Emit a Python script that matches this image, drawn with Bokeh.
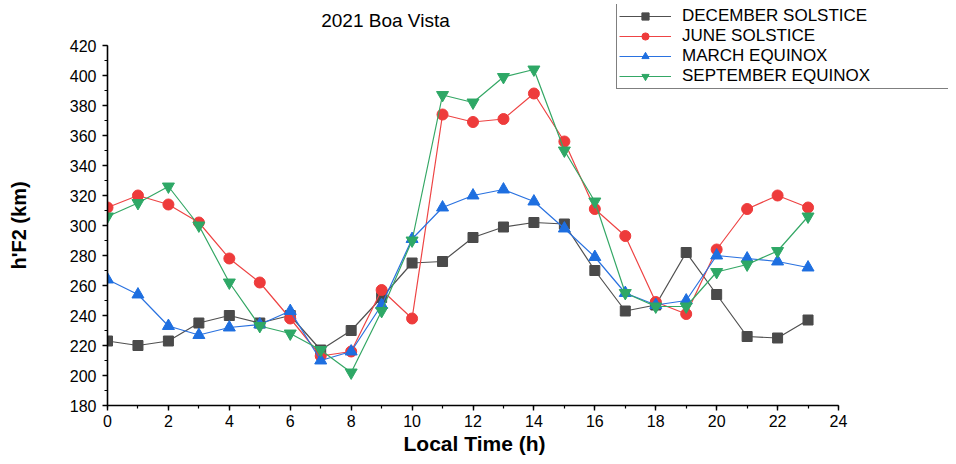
from bokeh.plotting import figure
from bokeh.models import Legend, LegendItem, Range1d, SingleIntervalTicker, Label, Title
from bokeh.embed import file_html
from bokeh.resources import INLINE

# ---- data ----
hours = list(range(24))
december = [223, 220, 223, 235, 240, 235, 240, 217, 230, 252, 275, 276,
            292, 299, 302, 301, 270, 243, 247, 282, 254, 226, 225, 237]
june = [312, 320, 314, 302, 278, 262, 238, 213, 216, 257, 238, 374,
        369, 371, 388, 356, 311, 293, 249, 241, 284, 311, 320, 312]
march = [264, 254, 233, 227, 232, 234, 243, 210, 216, 247, 291, 312,
         320, 324, 316, 298, 279, 255, 247, 250, 280, 278, 276, 272]
september = [306, 315, 326, 300, 262, 233, 228, 217, 202, 243, 290, 387,
             382, 399, 404, 350, 316, 255, 246, 246, 269, 274, 283, 306]
series_names = ["DECEMBER SOLSTICE", "JUNE SOLSTICE", "MARCH EQUINOX", "SEPTEMBER EQUINOX"]
x_bounds = (0, 24)
y_bounds = (180, 420)

FONT = "Liberation Sans"

# frame is extended to the top/right so the legend and title can sit over it;
# the axes themselves are limited to the reference's bounds
px_per_h = 731 / 24.0
px_per_km = 360 / 240.0
x_end = x_bounds[1] + 110 / px_per_h
y_end = y_bounds[1] + 41 / px_per_km

p = figure(width=948, height=456, output_backend="svg", toolbar_location=None,
           x_range=Range1d(x_bounds[0], x_end), y_range=Range1d(y_bounds[0], y_end),
           min_border_left=107, min_border_right=0, min_border_top=4, min_border_bottom=51,
           background_fill_color="white", border_fill_color="white")
p.title.text = ""
p.title.visible = False
p.outline_line_color = None
p.xgrid.visible = False
p.ygrid.visible = False

p.xaxis.ticker = SingleIntervalTicker(interval=2, num_minor_ticks=2)
p.yaxis.ticker = SingleIntervalTicker(interval=20, num_minor_ticks=2)
p.xaxis.bounds = x_bounds
p.yaxis.bounds = y_bounds
for ax in (p.xaxis[0], p.yaxis[0]):
    ax.axis_line_color = "black"
    ax.axis_line_width = 1.6
    ax.major_tick_line_color = "black"
    ax.major_tick_line_width = 1.4
    ax.major_tick_out = 5
    ax.major_tick_in = 0
    ax.minor_tick_line_color = "black"
    ax.minor_tick_line_width = 1.2
    ax.minor_tick_out = 3
    ax.minor_tick_in = 0
    ax.major_label_text_font = FONT
    ax.major_label_text_font_size = "16px"
    ax.major_label_text_color = "black"
p.xaxis.major_label_standoff = 4
p.yaxis.major_label_standoff = 6

# blank axis label used only as a spacer between tick labels and the y title
p.yaxis.axis_label = " "
p.yaxis.axis_label_text_font = FONT
p.yaxis.axis_label_text_font_size = "20px"
p.yaxis.axis_label_text_font_style = "bold"
p.yaxis.axis_label_standoff = 12

# axis titles placed as side-panel titles so they centre on the axis bounds
ylab = Title(text="h'F2 (km)", align="left", offset=136, standoff=0,
             text_font=FONT, text_font_style="bold", text_font_size="20px", text_color="black")
p.add_layout(ylab, "left")
xlab = Title(text="Local Time (h)", align="left", offset=296, standoff=0,
             text_font=FONT, text_font_style="bold", text_font_size="21px", text_color="black")
p.add_layout(xlab, "below")

title = Label(x=278, y=385, x_units="screen", y_units="screen", text="2021 Boa Vista",
              text_font=FONT, text_font_size="19px", text_color="black",
              text_align="center", text_baseline="middle")
p.add_layout(title)

styles = [
    (december, "#505050", "#4a4a4a", "square", 10),
    (june, "#ee4444", "#ee3b3b", "circle", 11),
    (march, "#2a72e0", "#1e6fe0", "triangle", 12),
    (september, "#34a765", "#2ea866", "inverted_triangle", 12),
]

items = []
for name, (vals, lc, mc, marker, size) in zip(series_names, styles):
    ln = p.line(hours, vals, line_color=lc, line_width=1.2)
    sc = p.scatter(hours, vals, marker=marker, size=size, fill_color=mc, line_color=mc)
    items.append(LegendItem(label=name, renderers=[ln, sc]))

legend = Legend(items=items, location=(509, 316), margin=0, padding=2, spacing=0,
                glyph_width=52, glyph_height=18, label_height=18, label_standoff=11,
                label_width=290,
                label_text_font=FONT, label_text_font_size="17px", label_text_color="black",
                border_line_color="black", border_line_width=1.5,
                background_fill_color="white", background_fill_alpha=1.0)
p.add_layout(legend)

open("out.html", "w").write(file_html(p, INLINE))
